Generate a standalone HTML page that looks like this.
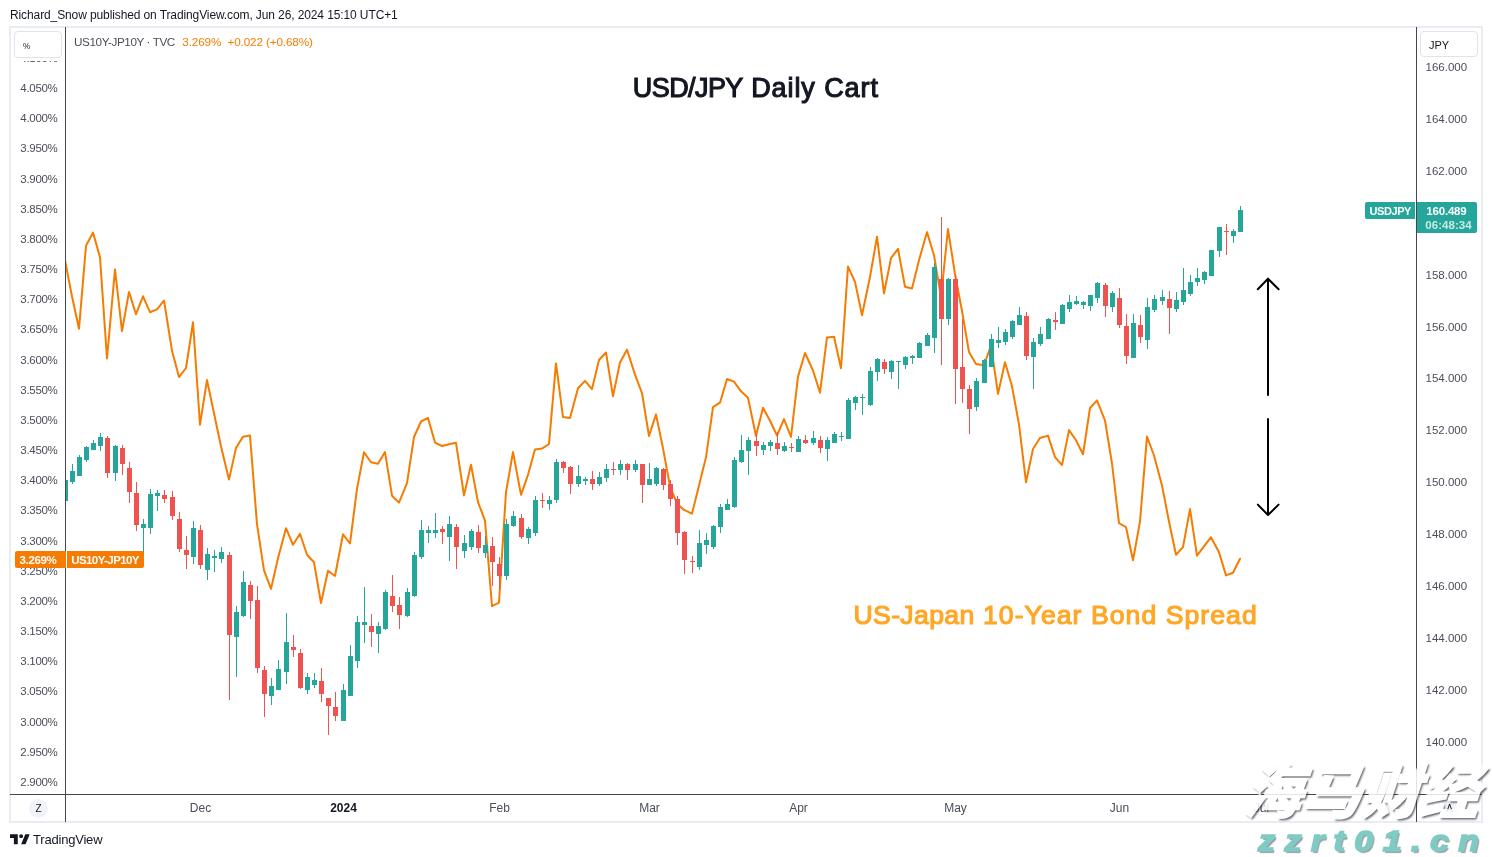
<!DOCTYPE html>
<html><head><meta charset="utf-8"><title>USD/JPY Daily Chart</title>
<style>
html,body{margin:0;padding:0;background:#fff;}
body{width:1492px;height:857px;position:relative;overflow:hidden;font-family:"Liberation Sans", "Noto Sans CJK SC", sans-serif;color:#131722;}
.abs{position:absolute;white-space:nowrap;}
.ax{position:absolute;font-size:11.5px;color:#4a4e59;line-height:14px;height:14px;white-space:nowrap;}
.axl{letter-spacing:-0.3px;}
.tl{position:absolute;font-size:12px;color:#4a4e59;line-height:14px;height:14px;width:60px;margin-left:-30px;text-align:center;top:801px;}
.box{position:absolute;border:1px solid #e0e3eb;border-radius:4px;background:#fff;box-sizing:border-box;font-size:11px;color:#131722;}
</style></head><body>
<div class="abs" id="hdr" style="left:10px;top:7px;font-size:12px;line-height:16px;color:#131722;letter-spacing:-0.11px;">Richard_Snow published on TradingView.com, Jun 26, 2024 15:10 UTC+1</div>
<div class="abs" style="left:9px;top:26px;width:1470px;height:793px;border:2px solid #e9ecf2;"></div>

<div class="ax axl" style="left:20.3px;top:50.8px;">4.100%</div>
<div class="ax axl" style="left:20.3px;top:81.0px;">4.050%</div>
<div class="ax axl" style="left:20.3px;top:111.1px;">4.000%</div>
<div class="ax axl" style="left:20.3px;top:141.3px;">3.950%</div>
<div class="ax axl" style="left:20.3px;top:171.5px;">3.900%</div>
<div class="ax axl" style="left:20.3px;top:201.7px;">3.850%</div>
<div class="ax axl" style="left:20.3px;top:231.8px;">3.800%</div>
<div class="ax axl" style="left:20.3px;top:262.0px;">3.750%</div>
<div class="ax axl" style="left:20.3px;top:292.2px;">3.700%</div>
<div class="ax axl" style="left:20.3px;top:322.3px;">3.650%</div>
<div class="ax axl" style="left:20.3px;top:352.5px;">3.600%</div>
<div class="ax axl" style="left:20.3px;top:382.7px;">3.550%</div>
<div class="ax axl" style="left:20.3px;top:412.8px;">3.500%</div>
<div class="ax axl" style="left:20.3px;top:443.0px;">3.450%</div>
<div class="ax axl" style="left:20.3px;top:473.2px;">3.400%</div>
<div class="ax axl" style="left:20.3px;top:503.4px;">3.350%</div>
<div class="ax axl" style="left:20.3px;top:533.5px;">3.300%</div>
<div class="ax axl" style="left:20.3px;top:563.7px;">3.250%</div>
<div class="ax axl" style="left:20.3px;top:593.9px;">3.200%</div>
<div class="ax axl" style="left:20.3px;top:624.0px;">3.150%</div>
<div class="ax axl" style="left:20.3px;top:654.2px;">3.100%</div>
<div class="ax axl" style="left:20.3px;top:684.4px;">3.050%</div>
<div class="ax axl" style="left:20.3px;top:714.5px;">3.000%</div>
<div class="ax axl" style="left:20.3px;top:744.7px;">2.950%</div>
<div class="ax axl" style="left:20.3px;top:774.9px;">2.900%</div>
<div class="ax" style="left:1425.5px;top:59.6px;">166.000</div>
<div class="ax" style="left:1425.5px;top:111.6px;">164.000</div>
<div class="ax" style="left:1425.5px;top:163.5px;">162.000</div>
<div class="ax" style="left:1425.5px;top:215.5px;">160.000</div>
<div class="ax" style="left:1425.5px;top:267.5px;">158.000</div>
<div class="ax" style="left:1425.5px;top:319.5px;">156.000</div>
<div class="ax" style="left:1425.5px;top:371.4px;">154.000</div>
<div class="ax" style="left:1425.5px;top:423.4px;">152.000</div>
<div class="ax" style="left:1425.5px;top:475.4px;">150.000</div>
<div class="ax" style="left:1425.5px;top:527.3px;">148.000</div>
<div class="ax" style="left:1425.5px;top:579.3px;">146.000</div>
<div class="ax" style="left:1425.5px;top:631.3px;">144.000</div>
<div class="ax" style="left:1425.5px;top:683.2px;">142.000</div>
<div class="ax" style="left:1425.5px;top:735.2px;">140.000</div>
<div class="abs" style="left:11px;top:28px;width:54px;height:32.5px;background:#fff;"></div>
<div class="box" style="left:14px;top:31px;width:48px;height:27px;"><span class="abs" style="left:8.3px;top:6.8px;line-height:13px;font-size:9.5px;transform:scaleX(.85);transform-origin:left;">%</span></div>
<div class="box" style="left:1420px;top:31px;width:58px;height:26px;"><span class="abs" style="left:8px;top:6.7px;line-height:13px;font-size:11px;">JPY</span></div>
<svg class="abs" style="left:0;top:0" width="1492" height="857" viewBox="0 0 1492 857"><defs><clipPath id="cp"><rect x="66" y="28" width="1350" height="766"/></clipPath></defs><g clip-path="url(#cp)"><polyline points="65.0,260.3 72.0,296.5 79.0,328.7 86.0,245.8 93.0,232.6 100.0,257.3 107.0,358.5 115.0,269.4 122.0,331.1 129.0,291.9 136.0,314.2 143.0,296.3 150.0,312.2 157.0,309.4 164.0,300.5 172.0,350.8 179.0,377.1 186.0,368.0 193.0,322.3 200.0,424.7 207.0,380.1 214.0,413.3 221.0,446.5 229.0,479.6 236.0,447.9 243.0,436.8 250.0,435.4 257.0,524.1 264.0,570.4 271.0,588.9 278.0,558.3 286.0,528.2 293.0,544.8 300.0,533.8 307.0,554.7 314.0,562.3 321.0,603.0 328.0,570.8 335.0,576.0 343.0,534.3 350.0,543.5 357.0,488.9 364.0,452.3 371.0,462.3 378.0,463.7 385.0,452.1 392.0,495.7 399.0,502.6 407.0,483.2 414.0,437.0 421.0,421.5 428.0,417.9 435.0,442.6 442.0,446.0 449.0,444.2 456.0,442.8 464.0,495.4 471.0,464.7 478.0,502.1 485.0,520.7 492.0,606.1 499.0,602.7 506.0,492.1 513.0,452.1 521.0,494.8 528.0,474.8 535.0,449.4 542.0,448.6 549.0,444.0 556.0,363.4 563.0,417.1 570.0,418.1 578.0,388.3 585.0,380.9 592.0,389.1 599.0,360.0 606.0,352.5 613.0,396.3 620.0,362.4 627.0,349.7 635.0,374.6 642.0,393.1 649.0,436.0 656.0,414.4 663.0,448.2 670.0,486.4 677.0,503.5 684.0,509.9 692.0,513.6 699.0,485.4 706.0,457.3 713.0,407.1 720.0,402.7 727.0,379.0 734.0,381.6 741.0,391.3 748.0,397.7 756.0,436.0 763.0,407.7 770.0,420.8 777.0,435.5 784.0,419.1 791.0,437.0 798.0,376.6 805.0,353.0 813.0,370.5 820.0,392.7 827.0,337.4 834.0,336.8 841.0,368.3 848.0,266.6 855.0,281.9 862.0,315.3 870.0,277.0 877.0,236.7 884.0,293.4 891.0,258.2 898.0,248.8 905.0,286.8 912.0,288.5 919.0,260.2 927.0,232.1 934.0,255.2 941.0,297.0 948.0,229.1 955.0,274.0 962.0,311.0 969.0,352.0 976.0,364.0 984.0,365.3 991.0,345.5 998.0,393.9 1005.0,362.2 1012.0,386.3 1019.0,424.5 1026.0,482.2 1033.0,449.0 1040.0,438.0 1048.0,435.6 1055.0,457.1 1062.0,465.1 1069.0,430.1 1076.0,440.2 1083.0,454.3 1090.0,408.0 1097.0,400.4 1105.0,420.5 1112.0,463.5 1119.0,523.2 1126.0,527.2 1133.0,560.2 1140.0,521.5 1147.0,436.5 1154.0,455.5 1162.0,485.5 1169.0,521.5 1176.0,554.7 1183.0,547.1 1190.0,509.1 1197.0,555.7 1204.0,546.3 1211.0,537.2 1219.0,552.3 1226.0,575.4 1233.0,572.8 1240.0,558.7" fill="none" stroke="#f57c00" stroke-width="2" stroke-linejoin="round" stroke-linecap="round"/><g shape-rendering="crispEdges"><rect x="65" y="480" width="1" height="21" fill="#26a69a"/><rect x="63" y="480" width="5" height="21" fill="#26a69a"/><rect x="72" y="464" width="1" height="20" fill="#26a69a"/><rect x="70" y="471" width="5" height="11" fill="#26a69a"/><rect x="79" y="455" width="1" height="21" fill="#26a69a"/><rect x="77" y="457" width="5" height="19" fill="#26a69a"/><rect x="86" y="446" width="1" height="16" fill="#26a69a"/><rect x="84" y="447" width="5" height="13" fill="#26a69a"/><rect x="93" y="440" width="1" height="10" fill="#26a69a"/><rect x="91" y="443" width="5" height="7" fill="#26a69a"/><rect x="100" y="433" width="1" height="18" fill="#26a69a"/><rect x="98" y="437" width="5" height="9" fill="#26a69a"/><rect x="107" y="436" width="1" height="42" fill="#ef5350"/><rect x="105" y="438" width="5" height="35" fill="#ef5350"/><rect x="115" y="445" width="1" height="36" fill="#26a69a"/><rect x="113" y="446" width="5" height="27" fill="#26a69a"/><rect x="122" y="445" width="1" height="30" fill="#ef5350"/><rect x="120" y="448" width="5" height="16" fill="#ef5350"/><rect x="129" y="462" width="1" height="41" fill="#ef5350"/><rect x="127" y="468" width="5" height="24" fill="#ef5350"/><rect x="136" y="482" width="1" height="49" fill="#ef5350"/><rect x="134" y="493" width="5" height="32" fill="#ef5350"/><rect x="143" y="519" width="1" height="37" fill="#26a69a"/><rect x="141" y="524" width="5" height="4" fill="#26a69a"/><rect x="150" y="489" width="1" height="45" fill="#26a69a"/><rect x="148" y="494" width="5" height="34" fill="#26a69a"/><rect x="157" y="490" width="1" height="21" fill="#26a69a"/><rect x="155" y="493" width="5" height="3" fill="#26a69a"/><rect x="164" y="490" width="1" height="13" fill="#ef5350"/><rect x="162" y="495" width="5" height="4" fill="#ef5350"/><rect x="172" y="491" width="1" height="29" fill="#ef5350"/><rect x="170" y="497" width="5" height="19" fill="#ef5350"/><rect x="179" y="512" width="1" height="40" fill="#ef5350"/><rect x="177" y="519" width="5" height="30" fill="#ef5350"/><rect x="186" y="536" width="1" height="33" fill="#ef5350"/><rect x="184" y="550" width="5" height="5" fill="#ef5350"/><rect x="193" y="521" width="1" height="43" fill="#26a69a"/><rect x="191" y="528" width="5" height="29" fill="#26a69a"/><rect x="200" y="525" width="1" height="44" fill="#ef5350"/><rect x="198" y="530" width="5" height="35" fill="#ef5350"/><rect x="207" y="548" width="1" height="32" fill="#26a69a"/><rect x="205" y="554" width="5" height="16" fill="#26a69a"/><rect x="214" y="550" width="1" height="22" fill="#26a69a"/><rect x="212" y="556" width="5" height="2" fill="#26a69a"/><rect x="221" y="547" width="1" height="16" fill="#26a69a"/><rect x="219" y="552" width="5" height="7" fill="#26a69a"/><rect x="229" y="552" width="1" height="148" fill="#ef5350"/><rect x="227" y="555" width="5" height="80" fill="#ef5350"/><rect x="236" y="606" width="1" height="71" fill="#26a69a"/><rect x="234" y="612" width="5" height="25" fill="#26a69a"/><rect x="243" y="571" width="1" height="46" fill="#26a69a"/><rect x="241" y="582" width="5" height="34" fill="#26a69a"/><rect x="250" y="581" width="1" height="38" fill="#ef5350"/><rect x="248" y="585" width="5" height="16" fill="#ef5350"/><rect x="257" y="586" width="1" height="87" fill="#ef5350"/><rect x="255" y="600" width="5" height="68" fill="#ef5350"/><rect x="264" y="666" width="1" height="51" fill="#ef5350"/><rect x="262" y="670" width="5" height="24" fill="#ef5350"/><rect x="271" y="678" width="1" height="27" fill="#26a69a"/><rect x="269" y="686" width="5" height="10" fill="#26a69a"/><rect x="278" y="660" width="1" height="30" fill="#26a69a"/><rect x="276" y="669" width="5" height="21" fill="#26a69a"/><rect x="286" y="613" width="1" height="71" fill="#26a69a"/><rect x="284" y="642" width="5" height="30" fill="#26a69a"/><rect x="293" y="635" width="1" height="22" fill="#ef5350"/><rect x="291" y="647" width="5" height="3" fill="#ef5350"/><rect x="300" y="649" width="1" height="40" fill="#ef5350"/><rect x="298" y="653" width="5" height="35" fill="#ef5350"/><rect x="307" y="673" width="1" height="21" fill="#26a69a"/><rect x="305" y="677" width="5" height="13" fill="#26a69a"/><rect x="314" y="673" width="1" height="15" fill="#26a69a"/><rect x="312" y="680" width="5" height="5" fill="#26a69a"/><rect x="321" y="668" width="1" height="34" fill="#ef5350"/><rect x="319" y="681" width="5" height="13" fill="#ef5350"/><rect x="328" y="698" width="1" height="37" fill="#ef5350"/><rect x="326" y="698" width="5" height="8" fill="#ef5350"/><rect x="335" y="692" width="1" height="29" fill="#ef5350"/><rect x="333" y="707" width="5" height="9" fill="#ef5350"/><rect x="343" y="684" width="1" height="37" fill="#26a69a"/><rect x="341" y="690" width="5" height="31" fill="#26a69a"/><rect x="350" y="645" width="1" height="51" fill="#26a69a"/><rect x="348" y="656" width="5" height="40" fill="#26a69a"/><rect x="357" y="616" width="1" height="52" fill="#26a69a"/><rect x="355" y="622" width="5" height="39" fill="#26a69a"/><rect x="364" y="587" width="1" height="56" fill="#26a69a"/><rect x="362" y="622" width="5" height="3" fill="#26a69a"/><rect x="371" y="614" width="1" height="33" fill="#ef5350"/><rect x="369" y="626" width="5" height="6" fill="#ef5350"/><rect x="378" y="622" width="1" height="31" fill="#26a69a"/><rect x="376" y="626" width="5" height="8" fill="#26a69a"/><rect x="385" y="590" width="1" height="40" fill="#26a69a"/><rect x="383" y="592" width="5" height="37" fill="#26a69a"/><rect x="392" y="575" width="1" height="37" fill="#ef5350"/><rect x="390" y="596" width="5" height="10" fill="#ef5350"/><rect x="399" y="597" width="1" height="32" fill="#ef5350"/><rect x="397" y="605" width="5" height="10" fill="#ef5350"/><rect x="407" y="588" width="1" height="29" fill="#26a69a"/><rect x="405" y="592" width="5" height="24" fill="#26a69a"/><rect x="414" y="552" width="1" height="45" fill="#26a69a"/><rect x="412" y="555" width="5" height="41" fill="#26a69a"/><rect x="421" y="520" width="1" height="39" fill="#26a69a"/><rect x="419" y="530" width="5" height="27" fill="#26a69a"/><rect x="428" y="526" width="1" height="17" fill="#26a69a"/><rect x="426" y="530" width="5" height="3" fill="#26a69a"/><rect x="435" y="513" width="1" height="25" fill="#26a69a"/><rect x="433" y="530" width="5" height="3" fill="#26a69a"/><rect x="442" y="526" width="1" height="18" fill="#ef5350"/><rect x="440" y="529" width="5" height="3" fill="#ef5350"/><rect x="449" y="516" width="1" height="45" fill="#26a69a"/><rect x="447" y="524" width="5" height="13" fill="#26a69a"/><rect x="456" y="524" width="1" height="45" fill="#ef5350"/><rect x="454" y="527" width="5" height="20" fill="#ef5350"/><rect x="464" y="535" width="1" height="23" fill="#26a69a"/><rect x="462" y="543" width="5" height="8" fill="#26a69a"/><rect x="471" y="529" width="1" height="21" fill="#26a69a"/><rect x="469" y="531" width="5" height="16" fill="#26a69a"/><rect x="478" y="525" width="1" height="28" fill="#ef5350"/><rect x="476" y="532" width="5" height="16" fill="#ef5350"/><rect x="485" y="536" width="1" height="22" fill="#26a69a"/><rect x="483" y="545" width="5" height="8" fill="#26a69a"/><rect x="492" y="537" width="1" height="49" fill="#ef5350"/><rect x="490" y="546" width="5" height="16" fill="#ef5350"/><rect x="499" y="557" width="1" height="32" fill="#ef5350"/><rect x="497" y="564" width="5" height="12" fill="#ef5350"/><rect x="506" y="519" width="1" height="61" fill="#26a69a"/><rect x="504" y="524" width="5" height="52" fill="#26a69a"/><rect x="513" y="511" width="1" height="16" fill="#26a69a"/><rect x="511" y="516" width="5" height="10" fill="#26a69a"/><rect x="521" y="514" width="1" height="25" fill="#ef5350"/><rect x="519" y="518" width="5" height="19" fill="#ef5350"/><rect x="528" y="527" width="1" height="17" fill="#26a69a"/><rect x="526" y="529" width="5" height="9" fill="#26a69a"/><rect x="535" y="496" width="1" height="40" fill="#26a69a"/><rect x="533" y="500" width="5" height="33" fill="#26a69a"/><rect x="542" y="493" width="1" height="15" fill="#ef5350"/><rect x="540" y="500" width="5" height="1" fill="#ef5350"/><rect x="549" y="496" width="1" height="14" fill="#26a69a"/><rect x="547" y="500" width="5" height="4" fill="#26a69a"/><rect x="556" y="459" width="1" height="44" fill="#26a69a"/><rect x="554" y="462" width="5" height="38" fill="#26a69a"/><rect x="563" y="461" width="1" height="12" fill="#ef5350"/><rect x="561" y="462" width="5" height="6" fill="#ef5350"/><rect x="570" y="466" width="1" height="28" fill="#ef5350"/><rect x="568" y="467" width="5" height="17" fill="#ef5350"/><rect x="578" y="465" width="1" height="22" fill="#26a69a"/><rect x="576" y="476" width="5" height="8" fill="#26a69a"/><rect x="585" y="477" width="1" height="8" fill="#26a69a"/><rect x="583" y="479" width="5" height="2" fill="#26a69a"/><rect x="592" y="471" width="1" height="19" fill="#ef5350"/><rect x="590" y="479" width="5" height="5" fill="#ef5350"/><rect x="599" y="472" width="1" height="14" fill="#26a69a"/><rect x="597" y="477" width="5" height="7" fill="#26a69a"/><rect x="606" y="464" width="1" height="18" fill="#26a69a"/><rect x="604" y="469" width="5" height="9" fill="#26a69a"/><rect x="613" y="462" width="1" height="13" fill="#ef5350"/><rect x="611" y="469" width="5" height="1" fill="#ef5350"/><rect x="620" y="460" width="1" height="15" fill="#26a69a"/><rect x="618" y="464" width="5" height="6" fill="#26a69a"/><rect x="627" y="463" width="1" height="17" fill="#ef5350"/><rect x="625" y="464" width="5" height="6" fill="#ef5350"/><rect x="635" y="460" width="1" height="12" fill="#26a69a"/><rect x="633" y="464" width="5" height="6" fill="#26a69a"/><rect x="642" y="464" width="1" height="39" fill="#ef5350"/><rect x="640" y="464" width="5" height="21" fill="#ef5350"/><rect x="649" y="463" width="1" height="22" fill="#26a69a"/><rect x="647" y="479" width="5" height="6" fill="#26a69a"/><rect x="656" y="467" width="1" height="19" fill="#26a69a"/><rect x="654" y="468" width="5" height="16" fill="#26a69a"/><rect x="663" y="468" width="1" height="22" fill="#ef5350"/><rect x="661" y="469" width="5" height="16" fill="#ef5350"/><rect x="670" y="480" width="1" height="26" fill="#ef5350"/><rect x="668" y="484" width="5" height="15" fill="#ef5350"/><rect x="677" y="496" width="1" height="49" fill="#ef5350"/><rect x="675" y="499" width="5" height="34" fill="#ef5350"/><rect x="684" y="531" width="1" height="43" fill="#ef5350"/><rect x="682" y="532" width="5" height="28" fill="#ef5350"/><rect x="692" y="556" width="1" height="17" fill="#ef5350"/><rect x="690" y="561" width="5" height="1" fill="#ef5350"/><rect x="699" y="530" width="1" height="40" fill="#26a69a"/><rect x="697" y="543" width="5" height="24" fill="#26a69a"/><rect x="706" y="533" width="1" height="21" fill="#26a69a"/><rect x="704" y="540" width="5" height="5" fill="#26a69a"/><rect x="713" y="525" width="1" height="24" fill="#26a69a"/><rect x="711" y="526" width="5" height="21" fill="#26a69a"/><rect x="720" y="504" width="1" height="29" fill="#26a69a"/><rect x="718" y="507" width="5" height="20" fill="#26a69a"/><rect x="727" y="499" width="1" height="11" fill="#26a69a"/><rect x="725" y="504" width="5" height="6" fill="#26a69a"/><rect x="734" y="457" width="1" height="51" fill="#26a69a"/><rect x="732" y="460" width="5" height="47" fill="#26a69a"/><rect x="741" y="435" width="1" height="28" fill="#26a69a"/><rect x="739" y="450" width="5" height="12" fill="#26a69a"/><rect x="748" y="437" width="1" height="38" fill="#26a69a"/><rect x="746" y="440" width="5" height="11" fill="#26a69a"/><rect x="756" y="434" width="1" height="22" fill="#ef5350"/><rect x="754" y="441" width="5" height="5" fill="#ef5350"/><rect x="763" y="442" width="1" height="13" fill="#26a69a"/><rect x="761" y="445" width="5" height="5" fill="#26a69a"/><rect x="770" y="440" width="1" height="11" fill="#26a69a"/><rect x="768" y="442" width="5" height="4" fill="#26a69a"/><rect x="777" y="432" width="1" height="23" fill="#ef5350"/><rect x="775" y="443" width="5" height="6" fill="#ef5350"/><rect x="784" y="442" width="1" height="10" fill="#26a69a"/><rect x="782" y="446" width="5" height="5" fill="#26a69a"/><rect x="791" y="443" width="1" height="9" fill="#ef5350"/><rect x="789" y="447" width="5" height="1" fill="#ef5350"/><rect x="798" y="436" width="1" height="16" fill="#26a69a"/><rect x="796" y="439" width="5" height="13" fill="#26a69a"/><rect x="805" y="435" width="1" height="9" fill="#ef5350"/><rect x="803" y="440" width="5" height="3" fill="#ef5350"/><rect x="813" y="431" width="1" height="14" fill="#26a69a"/><rect x="811" y="438" width="5" height="5" fill="#26a69a"/><rect x="820" y="436" width="1" height="17" fill="#ef5350"/><rect x="818" y="440" width="5" height="8" fill="#ef5350"/><rect x="827" y="437" width="1" height="24" fill="#26a69a"/><rect x="825" y="440" width="5" height="9" fill="#26a69a"/><rect x="834" y="432" width="1" height="11" fill="#26a69a"/><rect x="832" y="434" width="5" height="9" fill="#26a69a"/><rect x="841" y="432" width="1" height="9" fill="#26a69a"/><rect x="839" y="436" width="5" height="1" fill="#26a69a"/><rect x="848" y="398" width="1" height="41" fill="#26a69a"/><rect x="846" y="400" width="5" height="39" fill="#26a69a"/><rect x="855" y="396" width="1" height="14" fill="#26a69a"/><rect x="853" y="397" width="5" height="6" fill="#26a69a"/><rect x="862" y="394" width="1" height="21" fill="#26a69a"/><rect x="860" y="397" width="5" height="1" fill="#26a69a"/><rect x="870" y="367" width="1" height="39" fill="#26a69a"/><rect x="868" y="371" width="5" height="34" fill="#26a69a"/><rect x="877" y="358" width="1" height="23" fill="#26a69a"/><rect x="875" y="359" width="5" height="13" fill="#26a69a"/><rect x="884" y="359" width="1" height="15" fill="#ef5350"/><rect x="882" y="362" width="5" height="7" fill="#ef5350"/><rect x="891" y="360" width="1" height="19" fill="#26a69a"/><rect x="889" y="361" width="5" height="11" fill="#26a69a"/><rect x="898" y="361" width="1" height="28" fill="#26a69a"/><rect x="896" y="361" width="5" height="1" fill="#26a69a"/><rect x="905" y="356" width="1" height="13" fill="#26a69a"/><rect x="903" y="357" width="5" height="8" fill="#26a69a"/><rect x="912" y="355" width="1" height="9" fill="#26a69a"/><rect x="910" y="356" width="5" height="2" fill="#26a69a"/><rect x="919" y="342" width="1" height="16" fill="#26a69a"/><rect x="917" y="343" width="5" height="15" fill="#26a69a"/><rect x="927" y="333" width="1" height="13" fill="#26a69a"/><rect x="925" y="335" width="5" height="11" fill="#26a69a"/><rect x="934" y="263" width="1" height="90" fill="#26a69a"/><rect x="932" y="267" width="5" height="71" fill="#26a69a"/><rect x="941" y="217" width="1" height="148" fill="#ef5350"/><rect x="939" y="279" width="5" height="40" fill="#ef5350"/><rect x="948" y="278" width="1" height="47" fill="#26a69a"/><rect x="946" y="279" width="5" height="40" fill="#26a69a"/><rect x="955" y="275" width="1" height="129" fill="#ef5350"/><rect x="953" y="279" width="5" height="90" fill="#ef5350"/><rect x="962" y="319" width="1" height="84" fill="#ef5350"/><rect x="960" y="367" width="5" height="22" fill="#ef5350"/><rect x="969" y="385" width="1" height="49" fill="#ef5350"/><rect x="967" y="389" width="5" height="20" fill="#ef5350"/><rect x="976" y="378" width="1" height="33" fill="#26a69a"/><rect x="974" y="381" width="5" height="26" fill="#26a69a"/><rect x="984" y="359" width="1" height="24" fill="#26a69a"/><rect x="982" y="360" width="5" height="23" fill="#26a69a"/><rect x="991" y="334" width="1" height="33" fill="#26a69a"/><rect x="989" y="339" width="5" height="28" fill="#26a69a"/><rect x="998" y="327" width="1" height="21" fill="#26a69a"/><rect x="996" y="340" width="5" height="3" fill="#26a69a"/><rect x="1005" y="329" width="1" height="16" fill="#26a69a"/><rect x="1003" y="332" width="5" height="10" fill="#26a69a"/><rect x="1012" y="320" width="1" height="19" fill="#26a69a"/><rect x="1010" y="321" width="5" height="16" fill="#26a69a"/><rect x="1019" y="307" width="1" height="18" fill="#26a69a"/><rect x="1017" y="315" width="5" height="10" fill="#26a69a"/><rect x="1026" y="312" width="1" height="48" fill="#ef5350"/><rect x="1024" y="316" width="5" height="40" fill="#ef5350"/><rect x="1033" y="338" width="1" height="51" fill="#26a69a"/><rect x="1031" y="342" width="5" height="15" fill="#26a69a"/><rect x="1040" y="327" width="1" height="19" fill="#26a69a"/><rect x="1038" y="334" width="5" height="10" fill="#26a69a"/><rect x="1048" y="318" width="1" height="21" fill="#26a69a"/><rect x="1046" y="319" width="5" height="20" fill="#26a69a"/><rect x="1055" y="312" width="1" height="18" fill="#ef5350"/><rect x="1053" y="320" width="5" height="2" fill="#ef5350"/><rect x="1062" y="304" width="1" height="20" fill="#26a69a"/><rect x="1060" y="305" width="5" height="19" fill="#26a69a"/><rect x="1069" y="295" width="1" height="17" fill="#26a69a"/><rect x="1067" y="302" width="5" height="7" fill="#26a69a"/><rect x="1076" y="296" width="1" height="9" fill="#26a69a"/><rect x="1074" y="301" width="5" height="3" fill="#26a69a"/><rect x="1083" y="301" width="1" height="8" fill="#26a69a"/><rect x="1081" y="302" width="5" height="3" fill="#26a69a"/><rect x="1090" y="295" width="1" height="16" fill="#26a69a"/><rect x="1088" y="295" width="5" height="11" fill="#26a69a"/><rect x="1097" y="282" width="1" height="21" fill="#26a69a"/><rect x="1095" y="283" width="5" height="15" fill="#26a69a"/><rect x="1105" y="283" width="1" height="34" fill="#ef5350"/><rect x="1103" y="285" width="5" height="21" fill="#ef5350"/><rect x="1112" y="291" width="1" height="21" fill="#26a69a"/><rect x="1110" y="293" width="5" height="14" fill="#26a69a"/><rect x="1119" y="288" width="1" height="40" fill="#ef5350"/><rect x="1117" y="298" width="5" height="27" fill="#ef5350"/><rect x="1126" y="314" width="1" height="50" fill="#ef5350"/><rect x="1124" y="326" width="5" height="30" fill="#ef5350"/><rect x="1133" y="314" width="1" height="44" fill="#26a69a"/><rect x="1131" y="323" width="5" height="35" fill="#26a69a"/><rect x="1140" y="315" width="1" height="28" fill="#ef5350"/><rect x="1138" y="325" width="5" height="12" fill="#ef5350"/><rect x="1147" y="298" width="1" height="51" fill="#26a69a"/><rect x="1145" y="307" width="5" height="33" fill="#26a69a"/><rect x="1154" y="295" width="1" height="17" fill="#26a69a"/><rect x="1152" y="299" width="5" height="11" fill="#26a69a"/><rect x="1162" y="290" width="1" height="15" fill="#26a69a"/><rect x="1160" y="297" width="5" height="4" fill="#26a69a"/><rect x="1169" y="291" width="1" height="43" fill="#ef5350"/><rect x="1167" y="299" width="5" height="9" fill="#ef5350"/><rect x="1176" y="292" width="1" height="20" fill="#26a69a"/><rect x="1174" y="300" width="5" height="9" fill="#26a69a"/><rect x="1183" y="268" width="1" height="37" fill="#26a69a"/><rect x="1181" y="290" width="5" height="12" fill="#26a69a"/><rect x="1190" y="275" width="1" height="21" fill="#26a69a"/><rect x="1188" y="282" width="5" height="12" fill="#26a69a"/><rect x="1197" y="268" width="1" height="18" fill="#26a69a"/><rect x="1195" y="278" width="5" height="4" fill="#26a69a"/><rect x="1204" y="271" width="1" height="13" fill="#26a69a"/><rect x="1202" y="272" width="5" height="8" fill="#26a69a"/><rect x="1211" y="250" width="1" height="26" fill="#26a69a"/><rect x="1209" y="250" width="5" height="26" fill="#26a69a"/><rect x="1219" y="227" width="1" height="30" fill="#26a69a"/><rect x="1217" y="227" width="5" height="24" fill="#26a69a"/><rect x="1226" y="224" width="1" height="31" fill="#ef5350"/><rect x="1224" y="231" width="5" height="1" fill="#ef5350"/><rect x="1233" y="229" width="1" height="14" fill="#26a69a"/><rect x="1231" y="231" width="5" height="5" fill="#26a69a"/><rect x="1240" y="206" width="1" height="26" fill="#26a69a"/><rect x="1238" y="210" width="5" height="22" fill="#26a69a"/></g><g fill="none" stroke="#000" stroke-width="2" stroke-linecap="round" stroke-linejoin="round"><path d="M1268 395 V278.8 M1257.8 289.2 L1268 278.8 L1278.6 289.2"/><path d="M1268 419 V515 M1257.8 504.6 L1268 515 L1278.6 504.6"/></g></g><g shape-rendering="crispEdges" fill="#434651"><rect x="65" y="27" width="1" height="795"/><rect x="1416" y="27" width="1" height="795"/><rect x="10" y="794" width="1472" height="1"/></g></svg>
<div class="abs" style="left:74px;top:34px;font-size:11.7px;line-height:16px;color:#4a4e59;letter-spacing:-0.4px;">US10Y-JP10Y · TVC<span id="lg2" style="color:#f57c00;margin-left:7.5px;letter-spacing:-0.12px;">3.269%&nbsp; +0.022 (+0.68%)</span></div>
<div class="abs" id="t1" style="left:632.8px;top:71.7px;font-size:27px;line-height:32px;-webkit-text-stroke:1.1px #131722;letter-spacing:0.91px;color:#131722;"><span style="letter-spacing:-0.58px">USD/JPY</span> Daily Cart</div>
<div class="abs" id="t2" style="left:853.5px;top:599.2px;font-size:26.6px;line-height:32px;-webkit-text-stroke:1.15px #ffa726;letter-spacing:1.05px;color:#ffa726;"><span style="letter-spacing:0.35px">US-Japan</span> 10-Year Bond Spread</div>
<div class="abs" style="left:15px;top:551px;width:51px;height:17px;background:#f57c00;border-radius:2px 0 0 2px;color:#fff;font-size:11.5px;font-weight:bold;line-height:18.5px;text-indent:4.5px;letter-spacing:-0.35px;">3.269%</div>
<div class="abs" style="left:67px;top:551px;width:77px;height:17px;background:#f57c00;border-radius:0 2px 2px 0;color:#fff;font-size:11.5px;font-weight:bold;line-height:18.5px;text-indent:4.3px;letter-spacing:-0.6px;">US10Y-JP10Y</div>
<div class="abs" style="left:1365px;top:202px;width:50px;height:17px;background:#26a69a;border-radius:2px 0 0 2px;color:#fff;font-size:11px;font-weight:bold;line-height:18.5px;text-indent:4.6px;letter-spacing:-0.45px;">USDJPY</div>
<div class="abs" style="left:1417px;top:202px;width:60px;height:31px;background:#26a69a;border-radius:0 2px 2px 0;color:#fff;font-size:11.5px;font-weight:bold;line-height:14px;padding-top:2.3px;padding-left:9.3px;box-sizing:border-box;letter-spacing:-0.2px;">160.489<br><span style="opacity:.75;margin-left:-1px;letter-spacing:0.05px;">06:48:34</span></div>
<div class="tl" style="left:200.5px;">Dec</div>
<div class="tl" style="left:343.5px;font-weight:bold;color:#131722;">2024</div>
<div class="tl" style="left:499.5px;">Feb</div>
<div class="tl" style="left:649.5px;">Mar</div>
<div class="tl" style="left:798.5px;">Apr</div>
<div class="tl" style="left:955.5px;">May</div>
<div class="tl" style="left:1119.5px;">Jun</div>
<div class="tl" style="left:1261.5px;">Jul</div>
<div class="abs" style="left:29px;top:799px;width:19px;height:19px;border-radius:50%;background:#f0f3fa;font-size:10px;line-height:20.5px;text-align:center;color:#131722;">Z</div>
<div class="abs" style="left:1440px;top:799px;width:19px;height:19px;border-radius:50%;background:#f0f3fa;font-size:10px;line-height:20.5px;text-align:center;color:#131722;">A</div>
<svg class="abs" style="left:10px;top:834px" width="20" height="11" viewBox="0 0 36 19"><path fill="#131722" d="M14 18H7V7H0V0h14v18zM35.5 0L28 18h-8l7.5-18h8zM20 7a3.5 3.5 0 1 0 0-7 3.5 3.5 0 0 0 0 7z"/></svg>
<div class="abs" style="left:33px;top:831.7px;font-size:13px;line-height:16px;color:#131722;letter-spacing:-0.2px;">TradingView</div>
<div class="abs" id="wm1" style="left:1237px;top:758px;font-size:59px;line-height:70px;font-weight:900;color:#fff;font-family:'Liberation Sans','Noto Sans CJK SC',sans-serif;-webkit-text-stroke:1.2px #fff;text-shadow:2px 2px 2px rgba(35,35,48,.8);transform:skewX(-18deg) scaleX(1.0);transform-origin:left bottom;letter-spacing:0px;opacity:.85;">海马财经</div>
<div class="abs" id="wm2" style="left:1258px;top:823.5px;font-size:30px;line-height:34px;font-weight:bold;font-style:italic;color:#7fcbc4;letter-spacing:8.4px;-webkit-text-stroke:1.6px #7fcbc4;text-shadow:1.5px 1.5px 1px rgba(70,70,80,.55);transform:scaleX(1.13);transform-origin:left bottom;">zzrt01.cn</div>
</body></html>
